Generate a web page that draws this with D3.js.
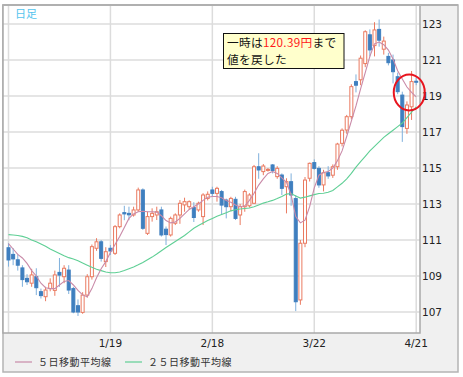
<!DOCTYPE html>
<html>
<head>
<meta charset="utf-8">
<script src="https://cdn.jsdelivr.net/npm/d3@7"></script>
<style>
  html, body { margin: 0; padding: 0; background: #fff; }
  svg { display: block; }
  .jp { font-family: "Noto Sans CJK JP", "Noto Sans", sans-serif; }
  .num { font-family: "DejaVu Sans", sans-serif; font-size: 10.5px; fill: #222; }
</style>
</head>
<body>
<svg id="chart" width="463" height="377"></svg>
<script>
// daily candles, oldest first
const opens  = [110.57,110.2,109.9,109.45,108.87,108.6,108.96,108.13,107.85,108.3,
                108.2,109.2,108.96,109.33,108.3,107.35,106.98,107.94,108.96,110.54,
                110.9,109.8,110.54,110.26,111.74,112.52,112.48,112.39,112.67,113.78,
                111.37,112.3,112.39,112.67,111.6,111.28,111.93,112.39,112.95,112.85,
                112.8,112.67,112.3,113.31,113.78,113.59,113.69,113.22,112.85,113.26,
                112.39,112.85,112.9,113.04,115.07,114.8,114.87,115.17,114.52,114.61,
                113.96,114.24,113.3,107.67,110.82,114.43,115.3,114.98,114.06,114.74,
                114.6,115.07,116.37,117.11,117.85,119.8,119.9,120.8,122.4,121.8,
                122.7,121.6,121.2,121.0,120.07,119.05,117.2,118.4,119.82];
const highs  = [110.82,110.55,110.2,109.6,109.1,109.4,109.43,108.3,108.4,108.87,
                109.3,110.0,109.6,109.6,108.4,107.7,108.1,109.1,110.75,111.1,
                111.0,110.6,110.72,111.83,112.48,112.9,112.85,112.85,113.91,113.87,
                112.57,112.76,112.85,112.85,111.75,112.3,112.48,113.22,113.35,113.2,
                113.1,113.13,113.6,113.7,113.96,113.96,113.78,113.3,113.4,113.4,
                113.0,113.8,113.6,115.17,115.82,115.22,115.0,115.22,115.1,114.7,
                114.43,114.7,113.5,111.0,114.5,115.3,115.48,115.1,114.9,115.1,
                115.2,116.4,117.2,117.95,119.65,120.2,121.25,122.65,122.7,123.1,
                123.25,122.3,121.4,121.3,120.3,119.24,118.7,120.39,120.0];
const lows   = [109.52,109.6,109.3,108.4,108.5,108.4,107.94,107.75,107.6,108.15,
                107.9,108.4,108.6,108.0,106.93,106.78,106.9,107.8,108.8,110.4,
                109.8,109.5,110.17,110.17,111.65,112.1,112.1,112.3,112.57,111.56,
                111.28,112.02,112.11,111.19,110.72,111.19,111.83,111.9,112.57,112.7,
                112.0,112.57,111.83,113.2,113.41,113.13,112.39,112.2,112.6,112.11,
                111.83,112.57,112.8,113.0,114.4,114.6,114.8,114.7,114.4,113.5,
                112.48,112.9,107.05,107.4,110.6,114.25,114.9,113.9,113.7,114.4,
                114.45,114.9,116.2,116.9,117.7,119.2,119.6,120.6,121.2,121.2,
                121.74,121.3,120.7,119.7,119.1,116.45,116.9,117.67,119.6];
const closes = [109.89,109.95,109.6,108.8,108.68,109.06,108.35,107.91,108.22,108.6,
                109.06,109.05,109.43,108.22,107.0,107.0,107.94,108.96,110.63,110.9,
                109.98,110.35,110.39,111.74,112.39,112.45,112.4,112.67,113.78,111.65,
                112.3,112.48,112.57,111.28,111.3,112.2,112.39,113.04,113.13,113.13,
                112.25,113.04,113.5,113.54,113.59,113.87,112.94,112.85,113.31,112.2,
                112.85,113.69,113.5,115.07,114.89,115.11,114.92,114.85,114.98,113.87,
                114.24,113.5,107.57,110.82,114.33,115.26,114.98,114.06,114.74,114.56,
                115.07,116.33,117.1,117.85,119.52,119.6,121.1,122.57,121.56,122.67,
                122.1,122.05,120.85,120.35,119.24,117.3,118.5,119.8,119.78];

// moving averages as drawn on the chart
const ma5  = [110.8,110.5,110.2,110.0,109.7,109.3,109.0,108.6,108.35,108.3,
              108.3,108.5,108.7,108.75,108.5,108.2,107.95,107.85,108.3,108.9,
              109.4,109.8,110.3,110.75,111.2,111.7,112.2,112.45,112.57,112.6,
              112.57,112.57,112.55,112.35,112.08,111.95,112.0,112.2,112.45,112.7,
              112.85,113.0,113.2,113.38,113.42,113.42,113.35,113.2,113.1,112.95,
              112.85,112.9,113.2,113.6,114.05,114.4,114.7,114.8,114.7,114.45,
              114.2,113.5,112.3,111.95,112.1,112.85,113.9,114.6,114.75,114.8,
              115.0,115.4,115.95,116.75,117.6,118.45,119.4,120.3,121.2,121.9,
              122.0,121.85,121.55,121.05,120.4,119.95,119.5,119.2,118.95];
const ma25 = [111.3,111.28,111.25,111.2,111.12,111.0,110.9,110.78,110.65,110.5,
              110.38,110.25,110.12,110.02,109.95,109.85,109.72,109.6,109.48,109.38,
              109.3,109.22,109.18,109.18,109.22,109.3,109.4,109.5,109.62,109.75,
              109.9,110.05,110.22,110.4,110.58,110.75,110.92,111.08,111.25,111.45,
              111.65,111.8,111.95,112.08,112.2,112.32,112.42,112.52,112.62,112.68,
              112.72,112.75,112.78,112.85,112.95,113.05,113.12,113.2,113.3,113.42,
              113.55,113.58,113.45,113.33,113.38,113.45,113.52,113.58,113.6,113.65,
              113.75,113.95,114.15,114.4,114.7,115.05,115.35,115.65,115.95,116.2,
              116.45,116.7,116.9,117.1,117.3,117.5,117.8,118.1,118.4];

const xTickIdx    = [0, 22, 44, 66, 88];
const xTickLabels = ["", "1/19", "2/18", "3/22", "4/21"];
const yTicks      = [107, 109, 111, 113, 115, 117, 119, 121, 123];
const legendNames = ["５日移動平均線", "２５日移動平均線"];

const UP_STROKE  = "#ea7a60";
const DOWN_FILL  = "#3f7fbf";
const DOWN_WICK  = "#7fb0dc";
const MA5_COLOR  = "#c98aa8";
const MA25_COLOR = "#5fcf95";

const svg = d3.select("#chart");
const plot = { left: 3, top: 5, right: 420, bottom: 333 };

const x = d3.scaleLinear().domain([0, closes.length - 1]).range([8.5, 416.2]);
const y = d3.scaleLinear().domain([107, 123]).range([312, 24]);

// frame + gray axis area
svg.append("rect")
   .attr("x", 3).attr("y", 5).attr("width", 455).attr("height", 367)
   .attr("fill", "#f0f0f0").attr("stroke", "#b4b4b4").attr("stroke-width", 1.5);
svg.append("rect")
   .attr("x", plot.left).attr("y", plot.top)
   .attr("width", plot.right - plot.left).attr("height", plot.bottom - plot.top)
   .attr("fill", "#fff");

svg.append("clipPath").attr("id", "clip")
   .append("rect")
   .attr("x", plot.left).attr("y", plot.top)
   .attr("width", plot.right - plot.left).attr("height", plot.bottom - plot.top);

// grid
const grid = svg.append("g").attr("stroke", "#dcdcdc").attr("stroke-width", 1.5);
grid.selectAll("line.h").data(yTicks).enter().append("line")
    .attr("x1", plot.left).attr("x2", plot.right)
    .attr("y1", d => y(d)).attr("y2", d => y(d));
grid.selectAll("line.v").data(xTickIdx).enter().append("line")
    .attr("x1", d => x(d)).attr("x2", d => x(d))
    .attr("y1", plot.top).attr("y2", plot.bottom);

// plot border
svg.append("rect")
   .attr("x", plot.left).attr("y", plot.top)
   .attr("width", plot.right - plot.left).attr("height", plot.bottom - plot.top)
   .attr("fill", "none").attr("stroke", "#a8a8a8").attr("stroke-width", 1.5);
svg.append("line")
   .attr("x1", plot.left).attr("x2", 458).attr("y1", 5).attr("y2", 5)
   .attr("stroke", "#b0b0b0").attr("stroke-width", 2);

// y labels
svg.append("g").selectAll("text").data(yTicks).enter().append("text")
   .attr("class", "num")
   .attr("x", 422).attr("y", d => y(d)).attr("dy", "0.36em")
   .text(d => d);

// x labels
svg.append("g").selectAll("text").data(xTickIdx).enter().append("text")
   .attr("class", "num")
   .attr("x", d => x(d)).attr("y", 347)
   .attr("text-anchor", "middle")
   .text((d, i) => xTickLabels[i]);

// candles
const idx = d3.range(closes.length);
const g = svg.append("g").attr("clip-path", "url(#clip)");
const bw = 3;

g.selectAll("line.wick").data(idx).enter().append("line")
 .attr("x1", i => x(i)).attr("x2", i => x(i))
 .attr("y1", i => y(highs[i])).attr("y2", i => y(lows[i]))
 .attr("stroke", i => closes[i] >= opens[i] ? UP_STROKE : DOWN_WICK)
 .attr("stroke-width", 1);

g.selectAll("rect.body").data(idx).enter().append("rect")
 .attr("x", i => x(i) - bw / 2)
 .attr("y", i => y(Math.max(opens[i], closes[i])))
 .attr("width", bw)
 .attr("height", i => Math.max(1, Math.abs(y(opens[i]) - y(closes[i]))))
 .attr("fill", i => closes[i] >= opens[i] ? "#fff" : DOWN_FILL)
 .attr("stroke", i => closes[i] >= opens[i] ? UP_STROKE : DOWN_FILL)
 .attr("stroke-width", 1);

// moving averages
const line = d3.line().x((d, i) => x(i)).y(d => y(d));
g.append("path").datum(ma25)
 .attr("d", line).attr("fill", "none")
 .attr("stroke", MA25_COLOR).attr("stroke-width", 1.1);
g.append("path").datum(ma5)
 .attr("d", line).attr("fill", "none")
 .attr("stroke", MA5_COLOR).attr("stroke-width", 1.1);

// top-left label
svg.append("text").attr("class", "jp")
   .attr("x", 15).attr("y", 18)
   .attr("font-size", 11).attr("fill", "#55c4ee")
   .text("日足");

// annotation
svg.append("rect")
   .attr("x", 223.5).attr("y", 33.5).attr("width", 120.5).attr("height", 35)
   .attr("fill", "#ffffcc").attr("stroke", "#111").attr("stroke-width", 1);
const t1 = svg.append("text").attr("class", "jp")
   .attr("x", 227).attr("y", 46.5).attr("font-size", 11.7)
   .attr("letter-spacing", "0.3px").attr("fill", "#111");
t1.append("tspan").text("一時は");
t1.append("tspan").attr("fill", "#ff1a1a").text("120.39円");
t1.append("tspan").text("まで");
svg.append("text").attr("class", "jp")
   .attr("x", 227).attr("y", 63.5).attr("font-size", 11.7)
   .attr("letter-spacing", "0.3px").attr("fill", "#111")
   .text("値を戻した");

// circle around the rebound
svg.append("ellipse")
   .attr("cx", x(86.5)).attr("cy", y(119.2))
   .attr("rx", 15.5).attr("ry", 18)
   .attr("fill", "none").attr("stroke", "#e8141e").attr("stroke-width", 2);

// legend
const leg = svg.append("g");
[[15, MA5_COLOR], [125, MA25_COLOR]].forEach(([lx, col], i) => {
  leg.append("line")
     .attr("x1", lx).attr("x2", lx + 17).attr("y1", 362).attr("y2", 362)
     .attr("stroke", col).attr("stroke-width", 1.2);
  leg.append("text").attr("class", "jp")
     .attr("x", lx + 23).attr("y", 366)
     .attr("font-size", 10).attr("letter-spacing", "0.5px").attr("fill", "#333")
     .text(legendNames[i]);
});
</script>
</body>
</html>
